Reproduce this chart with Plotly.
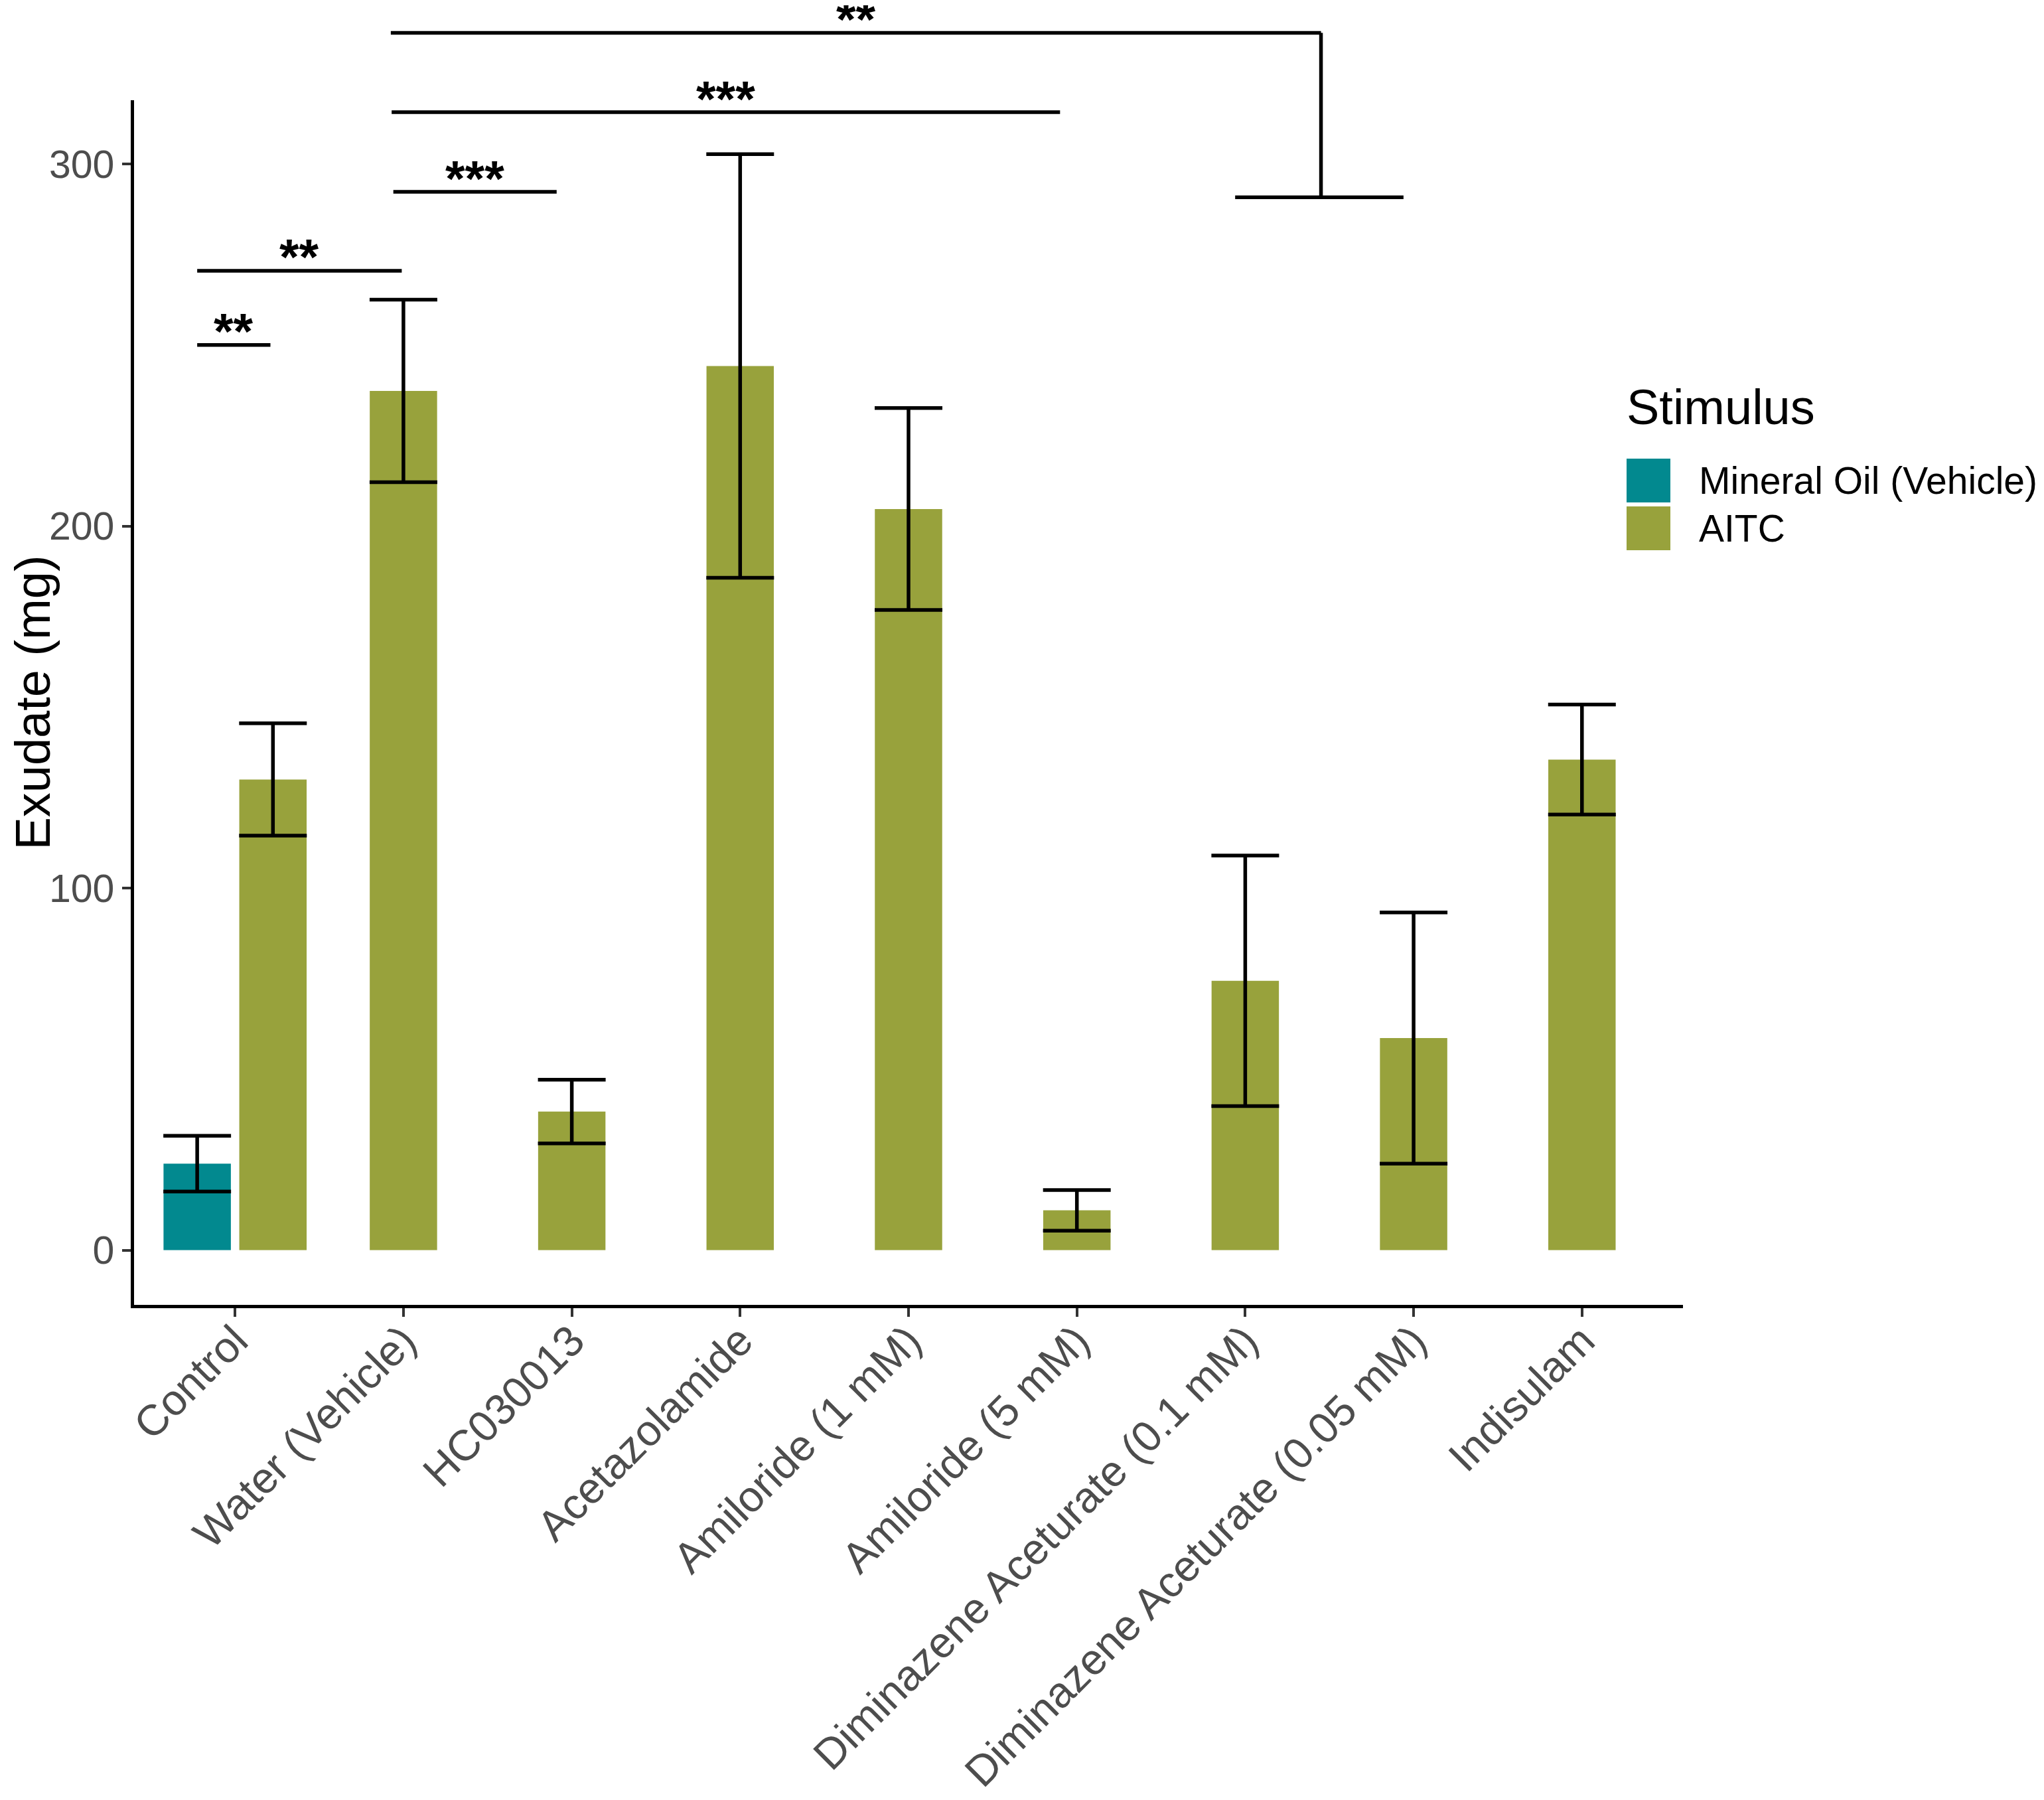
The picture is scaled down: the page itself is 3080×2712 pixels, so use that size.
import plotly.graph_objects as go

# data
categories = ["Control", "Water (Vehicle)", "HC030013", "Acetazolamide",
              "Amiloride (1 mM)", "Amiloride (5 mM)",
              "Diminazene Aceturate (0.1 mM)", "Diminazene Aceturate (0.05 mM)",
              "Indisulam"]
aitc_mean = [130.0, 237.3, 38.3, 244.2, 204.7, 11.0, 74.4, 58.6, 135.5]
aitc_se = [15.5, 25.2, 8.8, 58.5, 27.9, 5.6, 34.6, 34.7, 15.2]
oil_mean = [23.9]
oil_se = [7.7]
yticks = [0, 100, 200, 300]

# significance brackets (x in category units, y in mg)
sig_x0 = [-0.225, -0.225, 0.94, 0.93, 0.925]
sig_x1 = [0.21, 0.99, 1.91, 4.9, 6.45]
sig_y = [250.0, 270.5, 292.3, 314.3, 336.2]
sig_labels = ["**", "**", "***", "***", "**"]
group_y = 290.8
group_x = [5.94, 6.94]

OIL = "#02898F"
AITC = "#98A23C"
XMIN, XMAX = -0.6, 8.6
YMIN, YMAX = -15.1, 317.6

# plot area as it should land in the screenshot (page body adds 8px)
W, H = 3080, 2712
OFF = 8
PL, PR, PT, PB = 202, 2536, 151, 1966
PW, PH = PR - PL, PB - PT


def px(v):
    return (v - XMIN) / (XMAX - XMIN)


def py(v):
    return (v - YMIN) / (YMAX - YMIN)


def pix_x(p):
    return (p - PL) / PW


def pix_y(p):
    return (PB - p) / PH


dodge = 0.225
oil_x = [0 - dodge]
aitc_x = [i for i in range(len(categories))]
aitc_x[0] = 0 + dodge

fig = go.Figure()
fig.add_trace(go.Bar(x=oil_x, y=oil_mean, width=0.4, marker_color=OIL, marker_line_width=0,
                     name="Mineral Oil (Vehicle)",
                     error_y=dict(type="data", array=oil_se, color="black", thickness=5.5, width=51)))
fig.add_trace(go.Bar(x=aitc_x, y=aitc_mean, width=0.4, marker_color=AITC, marker_line_width=0,
                     name="AITC",
                     error_y=dict(type="data", array=aitc_se, color="black", thickness=5.5, width=51)))

shapes = []
annotations = []
line = dict(color="black", width=5.5)
for x0, x1, y, lab in zip(sig_x0, sig_x1, sig_y, sig_labels):
    shapes.append(dict(type="line", xref="paper", yref="paper", x0=px(x0), x1=px(x1),
                       y0=py(y), y1=py(y), line=line))
    annotations.append(dict(xref="paper", yref="paper", x=px((x0 + x1) / 2), y=py(y),
                            text="<b>" + lab + "</b>", showarrow=False, xanchor="center",
                            yanchor="middle", yshift=21, font=dict(size=76, color="black")))
# drop from the top bracket to the diminazene group
shapes.append(dict(type="line", xref="paper", yref="paper", x0=px(sig_x1[-1]), x1=px(sig_x1[-1]),
                   y0=py(sig_y[-1]), y1=py(group_y), line=line))
shapes.append(dict(type="line", xref="paper", yref="paper", x0=px(group_x[0]), x1=px(group_x[1]),
                   y0=py(group_y), y1=py(group_y), line=line))

# legend drawn by hand so the keys are as large as in the original
legend_items = [("Mineral Oil (Vehicle)", OIL), ("AITC", AITC)]
annotations.append(dict(xref="paper", yref="paper", x=pix_x(2449), y=pix_y(613), text="Stimulus",
                        showarrow=False, xanchor="left", yanchor="middle",
                        font=dict(size=74, color="black")))
for k, (lab, col) in enumerate(legend_items):
    top = 691 + k * 72
    shapes.append(dict(type="rect", xref="paper", yref="paper", x0=pix_x(2451), x1=pix_x(2517),
                       y0=pix_y(top + 66), y1=pix_y(top), fillcolor=col, line_width=0))
    annotations.append(dict(xref="paper", yref="paper", x=pix_x(2558), y=pix_y(top + 33), text=lab,
                            showarrow=False, xanchor="left", yanchor="middle",
                            font=dict(size=57, color="black")))

axis_style = dict(showline=True, linecolor="black", linewidth=4.5, ticks="outside", ticklen=13,
                  tickwidth=4, tickcolor="#333333", showgrid=False, zeroline=False)

fig.update_layout(
    width=W, height=H,
    margin=dict(l=PL - OFF, r=W - PR + OFF, t=PT - OFF, b=H - PB + OFF, autoexpand=False),
    plot_bgcolor="white", paper_bgcolor="white",
    font=dict(family="Liberation Sans, Arial, sans-serif"),
    barmode="overlay",
    showlegend=False,
    shapes=shapes,
    annotations=annotations,
)
fig.update_xaxes(range=[XMIN, XMAX], tickmode="array", tickvals=list(range(len(categories))),
                 ticktext=categories, tickangle=-45, automargin=False, ticklabelstandoff=-28,
                 tickfont=dict(size=65, color="#4D4D4D"), **axis_style)
fig.update_yaxes(range=[YMIN, YMAX], tickmode="array", tickvals=yticks,
                 tickfont=dict(size=59, color="#4D4D4D"),
                 title=dict(text="Exudate (mg)", font=dict(size=74, color="black"), standoff=50),
                 automargin=False, **axis_style)

fig.write_html("out.html")
